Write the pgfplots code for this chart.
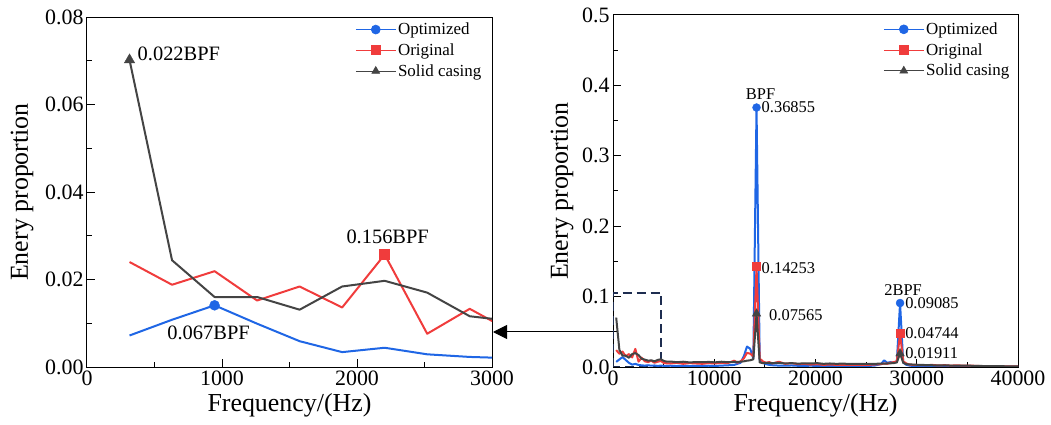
\documentclass[border=0pt]{standalone}
\usepackage{fontspec}
\setmainfont{Liberation Serif}
\usepackage{pgfplots}
\pgfplotsset{compat=1.18}
\usetikzlibrary{arrows.meta}
\definecolor{cblue}{RGB}{31,102,229}
\definecolor{cred}{RGB}{240,60,60}
\definecolor{cgray}{RGB}{68,68,68}
\definecolor{cnavy}{RGB}{30,45,80}

\pgfplotstableread{
x y
315 0.0072
630 0.0108
945 0.0141
1260 0.0099
1575 0.0059
1890 0.0034
2205 0.0044
2520 0.0029
2835 0.0023
3150 0.0020
3465 0.0025
3780 0.0018
4095 0.0022
4410 0.0015
4725 0.0020
5040 0.0016
5670 0.0018
6300 0.0014
6930 0.0017
7560 0.0013
8190 0.0016
8820 0.0014
9450 0.0018
10080 0.0015
10710 0.0020
11340 0.0024
11970 0.0030
12600 0.0060
12915 0.0150
13230 0.0290
13545 0.0260
13860 0.0120
14175 0.36855
14490 0.0100
14805 0.0060
15120 0.0040
15435 0.0030
15750 0.0025
16380 0.0020
17010 0.0018
17640 0.0022
18270 0.0017
18900 0.0015
19530 0.0019
20160 0.0014
20790 0.0016
21420 0.0013
22050 0.0015
22680 0.0012
23310 0.0014
23940 0.0013
24570 0.0016
25200 0.0015
25830 0.0020
26460 0.0040
26775 0.0095
27090 0.0060
27405 0.0070
27720 0.0060
28035 0.0080
28350 0.09085
28665 0.0060
28980 0.0030
29295 0.0020
29610 0.0015
30240 0.0012
30870 0.0010
31500 0.0009
32760 0.0008
34020 0.0007
35280 0.0006
36540 0.0005
37800 0.0005
39060 0.0004
40000 0.0004
}\optdata

\pgfplotstableread{
x y
315 0.0240
630 0.0188
945 0.0219
1260 0.0152
1575 0.0184
1890 0.0136
2205 0.0257
2520 0.0076
2835 0.0133
3150 0.0080
3465 0.0070
3780 0.0090
4095 0.0060
4410 0.0075
4725 0.0085
5040 0.0055
5670 0.0050
6300 0.0060
6930 0.0045
7560 0.0055
8190 0.0050
8820 0.0045
9450 0.0055
10080 0.0050
10710 0.0060
11340 0.0055
11970 0.0090
12285 0.0060
12600 0.0080
12915 0.0120
13230 0.0200
13545 0.0190
13860 0.0150
14175 0.14253
14490 0.0120
14805 0.0080
15120 0.0060
15435 0.0070
15750 0.0050
16380 0.0075
17010 0.0045
17640 0.0055
18270 0.0040
18900 0.0045
19530 0.0035
20160 0.0040
20790 0.0030
21420 0.0035
22050 0.0030
22680 0.0032
23310 0.0028
23940 0.0030
24570 0.0028
25200 0.0030
25830 0.0035
26460 0.0040
26775 0.0050
27090 0.0045
27405 0.0060
27720 0.0070
28035 0.0080
28350 0.04744
28665 0.0080
28980 0.0050
29295 0.0035
29610 0.0030
30240 0.0028
30870 0.0025
31500 0.0030
32130 0.0022
32760 0.0026
33390 0.0020
34020 0.0024
34650 0.0018
35280 0.0020
36540 0.0012
37800 0.0010
39060 0.0008
40000 0.0008
}\orgdata

\pgfplotstableread{
x y
315 0.0702
630 0.0244
945 0.0160
1260 0.0160
1575 0.0131
1890 0.0184
2205 0.0197
2520 0.0170
2835 0.0116
3150 0.0105
3465 0.0090
3780 0.0095
4095 0.0080
4410 0.0100
4725 0.0110
5040 0.0085
5355 0.0075
5670 0.0078
6300 0.0068
6930 0.0075
7560 0.0065
8190 0.0070
8820 0.0068
9450 0.0072
10080 0.0066
10710 0.0075
11340 0.0068
11970 0.0072
12600 0.0075
12915 0.0080
13230 0.0090
13545 0.0095
13860 0.0110
14175 0.07565
14490 0.0065
14805 0.0055
15120 0.0060
15750 0.0055
16380 0.0060
17010 0.0050
17640 0.0055
18270 0.0048
18900 0.0052
19530 0.0050
20160 0.0055
20790 0.0045
21420 0.0050
22050 0.0045
22680 0.0048
23310 0.0044
23940 0.0046
24570 0.0044
25200 0.0046
25830 0.0045
26460 0.0048
27090 0.0050
27720 0.0055
28035 0.0065
28350 0.01911
28665 0.0060
28980 0.0040
29610 0.0035
30240 0.0030
30870 0.0028
31500 0.0025
32760 0.0022
34020 0.0020
35280 0.0018
36540 0.0014
37800 0.0012
39060 0.0010
40000 0.0010
}\soldata

\pgfplotsset{
  myaxis/.style={
    scale only axis, width=405bp, height=350bp,
    axis line style={line width=1bp},
    tick style={black, line width=1bp},
    tick align=inside, xtick pos=bottom, ytick pos=left,
    major tick length=8bp, minor tick length=5bp,
    minor x tick num=1, minor y tick num=1,
    /pgf/number format/assume math mode=true,
    tick label style={font=\fontsize{22}{22}\selectfont},
    label style={font=\fontsize{26}{26}\selectfont},
    scaled ticks=false,
    xticklabel style={/pgf/number format/1000 sep={}},
    legend style={draw=none, fill=none, font=\fontsize{17}{17}\selectfont,
      at={(rel axis cs:0.655,0.995)}, anchor=north west, row sep=3.5bp},
    legend cell align=left,
    legend image code/.code={\draw[mark repeat=2,mark phase=2] plot coordinates {(0bp,0bp) (20bp,0bp) (40bp,0bp)};},
    xlabel style={at={(axis description cs:0.5,-0.1086)}, anchor=center},
  },
  lg/.style={line width=0.6bp, mark size=4.5bp, mark options={solid}},
  dl/.style={line width=2bp, mark=none, line join=round},
}

\begin{document}
\begin{tikzpicture}
\useasboundingbox (-87bp,-58bp) rectangle (964bp,367bp);
% Left axis
\begin{axis}[myaxis, at={(0bp,0bp)}, anchor=south west,
  xmin=0, xmax=3000, ymin=0, ymax=0.08,
  xtick={0,1000,2000,3000}, ytick={0,0.02,0.04,0.06,0.08},
  yticklabel style={/pgf/number format/.cd, fixed, fixed zerofill, precision=2},
  xlabel={Frequency/(Hz)}, ylabel={Enery proportion},
  ylabel style={at={(axis description cs:-0.16,0.5)}, anchor=center},
]
\addlegendimage{cblue, lg, mark=*}
\addlegendentry{Optimized}
\addlegendimage{cred, lg, mark=square*}
\addlegendentry{Original}
\addlegendimage{cgray, lg, mark=triangle*}
\addlegendentry{Solid casing}
\addplot[cblue, dl, forget plot] table[x=x,y=y] {\optdata};
\addplot[cred, dl, forget plot] table[x=x,y=y] {\orgdata};
\addplot[cgray, dl, forget plot] table[x=x,y=y] {\soldata};
\addplot[only marks, mark=*, cblue, mark size=5bp, forget plot] coordinates {(945,0.0141)};
\addplot[only marks, mark=square*, cred, mark size=5bp, forget plot] coordinates {(2205,0.0257)};
\addplot[only marks, mark=triangle*, cgray, mark size=6bp, forget plot] coordinates {(315,0.0702)};
\node[anchor=west, inner sep=0, font=\fontsize{20.5}{20.5}\selectfont] at ([xshift=8bp,yshift=6bp]axis cs:315,0.0702) {0.022BPF};
\node[anchor=center, inner sep=0, font=\fontsize{20.5}{20.5}\selectfont] at ([xshift=3bp,yshift=18bp]axis cs:2205,0.0257) {0.156BPF};
\node[anchor=center, inner sep=0, font=\fontsize{20.5}{20.5}\selectfont] at ([xshift=-6bp,yshift=-28bp]axis cs:945,0.0141) {0.067BPF};
\end{axis}
% Right axis
\begin{axis}[myaxis, at={(526bp,0bp)}, anchor=south west, height=352bp,
  xmin=0, xmax=40000, ymin=0, ymax=0.5,
  xtick={0,10000,20000,30000,40000}, ytick={0,0.1,0.2,0.3,0.4,0.5},
  yticklabel style={/pgf/number format/.cd, fixed, fixed zerofill, precision=1},
  xlabel={Frequency/(Hz)}, ylabel={Enery proportion},
  ylabel style={at={(axis description cs:-0.126,0.5)}, anchor=center},
  legend style={at={(rel axis cs:0.66,0.99)}},
]
\addlegendimage{cblue, lg, mark=*}
\addlegendentry{Optimized}
\addlegendimage{cred, lg, mark=square*}
\addlegendentry{Original}
\addlegendimage{cgray, lg, mark=triangle*}
\addlegendentry{Solid casing}
\draw[cnavy, line width=2bp, dash pattern=on 9bp off 5bp] (axis cs:0,0) rectangle (axis cs:4740,0.1057);
\addplot[cblue, dl, forget plot] table[x=x,y=y] {\optdata};
\addplot[cred, dl, forget plot] table[x=x,y=y] {\orgdata};
\addplot[cgray, dl, forget plot] table[x=x,y=y] {\soldata};
\addplot[only marks, mark=*, cblue, mark size=4bp, forget plot] coordinates {(14175,0.36855) (28350,0.09085)};
\addplot[only marks, mark=square*, cred, mark size=4bp, forget plot] coordinates {(14175,0.14253) (28350,0.04744)};
\addplot[only marks, mark=triangle*, cgray, mark size=5bp, forget plot] coordinates {(14175,0.07565) (28350,0.01911)};
\begin{scope}[every node/.style={inner sep=0, font=\fontsize{16.5}{16.5}\selectfont}]
\node[anchor=center] at ([xshift=4bp,yshift=13.5bp]axis cs:14175,0.36855) {BPF};
\node[anchor=west] at ([xshift=5bp]axis cs:14175,0.36855) {0.36855};
\node[anchor=west] at ([xshift=5bp,yshift=-1bp]axis cs:14175,0.14253) {0.14253};
\node[anchor=west] at ([xshift=12.5bp,yshift=-1bp]axis cs:14175,0.07565) {0.07565};
\node[anchor=center] at ([xshift=3bp,yshift=13bp]axis cs:28350,0.09085) {2BPF};
\node[anchor=west] at ([xshift=5bp]axis cs:28350,0.09085) {0.09085};
\node[anchor=west] at ([xshift=5bp]axis cs:28350,0.04744) {0.04744};
\node[anchor=west] at ([xshift=5bp]axis cs:28350,0.01911) {0.01911};
\end{scope}
\end{axis}
\draw[line width=1bp, -{Triangle[length=14bp,width=14bp]}] (526bp,35bp) -- (406bp,35bp);
\end{tikzpicture}
\end{document}
